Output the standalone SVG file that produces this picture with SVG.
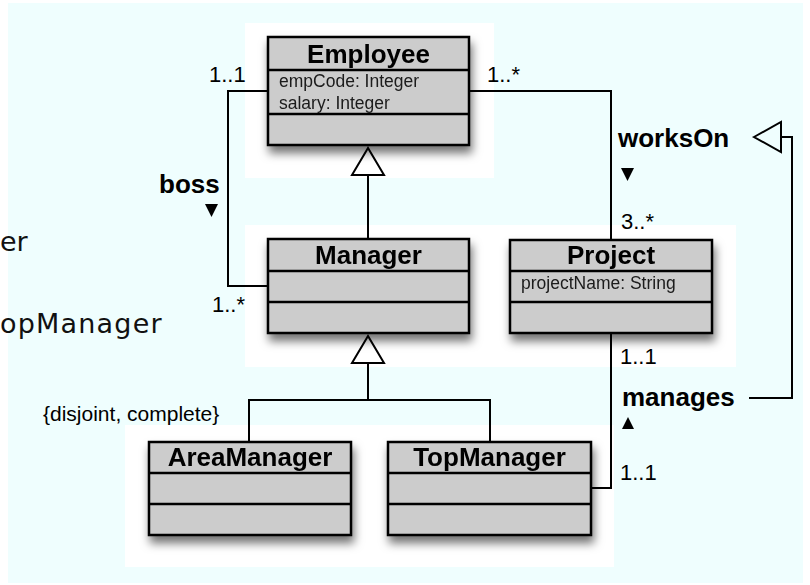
<svg xmlns="http://www.w3.org/2000/svg" width="810" height="585" viewBox="0 0 810 585">
  <defs>
    <style>
      .cls { fill: #cccccc; stroke: #000; stroke-width: 2.5; }
      .sep { stroke: #000; stroke-width: 2.5; }
      .title { font-family: "Liberation Sans", Arial, Helvetica, sans-serif; font-weight: bold; font-size: 26px; fill: #000; text-anchor: middle; }
      .attr { font-family: "Liberation Sans", Arial, Helvetica, sans-serif; font-size: 17.5px; fill: #1a1a1a; }
      .mult { font-family: "Liberation Sans", Arial, Helvetica, sans-serif; font-size: 22px; fill: #000; }
      .assoc { font-family: "Liberation Sans", Arial, Helvetica, sans-serif; font-weight: bold; font-size: 26px; fill: #000; }
      .note { font-family: "Liberation Sans", Arial, Helvetica, sans-serif; font-size: 21px; fill: #000; }
      .ghost { font-family: "DejaVu Sans", Verdana, sans-serif; font-size: 27px; fill: #111; }
      .line { fill: none; stroke: #000; stroke-width: 2; }
      .gen { fill: none; stroke: #000; stroke-width: 2; stroke-linejoin: miter; }
      .panel { fill: #ffffff; }
    </style>
    <filter id="shadow" x="-20%" y="-20%" width="140%" height="160%">
      <feDropShadow dx="2" dy="7" stdDeviation="5" flood-color="#000" flood-opacity="0.55"/>
    </filter>
  </defs>

  <!-- canvas -->
  <rect x="0" y="0" width="810" height="585" fill="#ffffff"/>
  <rect x="8" y="3" width="795" height="580" fill="#effefe"/>

  <!-- white panels behind the class boxes -->
  <g id="panels">
    <rect class="panel" x="245" y="23" width="249" height="155"/>
    <rect class="panel" x="245" y="225" width="491" height="142"/>
    <rect class="panel" x="125" y="425" width="489" height="142"/>
  </g>

  <!-- loose text fragments at the left edge -->
  <text class="ghost" x="0" y="251">er</text>
  <text class="ghost" x="0" y="333" letter-spacing="1.2">opManager</text>

  <!-- connectors -->
  <g id="connectors">
    <!-- Manager generalizes Employee -->
    <line class="line" x1="368" y1="175" x2="368" y2="239"/>
    <polygon class="gen" points="368,148 352,175 384,175"/>
    <!-- AreaManager / TopManager generalize Manager -->
    <polyline class="line" points="249,442 249,400 490,400 490,442"/>
    <line class="line" x1="368" y1="363" x2="368" y2="400"/>
    <polygon class="gen" points="368,336 352,363 384,363"/>
    <!-- boss: Employee to Manager -->
    <polyline class="line" points="268,91 228,91 228,286 268,286"/>
    <!-- worksOn: Employee to Project -->
    <polyline class="line" points="469,91 611,91 611,240"/>
    <!-- manages: Project to TopManager -->
    <polyline class="line" points="611,333 611,488 591,488"/>
    <!-- manages specializes worksOn -->
    <polyline class="line" points="749,398 792,398 792,137 781,137"/>
    <polygon class="gen" points="754,137 781,122 781,152"/>
  </g>

  <!-- association labels -->
  <g id="labels">
    <text class="mult" x="209" y="82">1..1</text>
    <text class="assoc" x="159" y="193">boss</text>
    <polygon points="205,204 218,204 211.5,217" fill="#000"/>
    <text class="mult" x="212" y="312">1..*</text>

    <text class="mult" x="487" y="82">1..*</text>
    <text class="assoc" x="618" y="147">worksOn</text>
    <polygon points="621,168 634,168 627.5,181" fill="#000"/>
    <text class="mult" x="621" y="229">3..*</text>

    <text class="mult" x="620" y="364">1..1</text>
    <text class="assoc" x="622" y="406">manages</text>
    <polygon points="622,429 634,429 628,417" fill="#000"/>
    <text class="mult" x="620" y="480">1..1</text>

    <text class="note" x="43" y="421">{disjoint, complete}</text>
  </g>

  <!-- classes -->
  <g id="employee" filter="url(#shadow)">
    <rect class="cls" x="268" y="37" width="201" height="108"/>
    <line class="sep" x1="268" y1="70" x2="469" y2="70"/>
    <line class="sep" x1="268" y1="114" x2="469" y2="114"/>
    <text class="title" x="368.5" y="63">Employee</text>
    <text class="attr" x="279" y="87">empCode: Integer</text>
    <text class="attr" x="279" y="109">salary: Integer</text>
  </g>

  <g id="manager" filter="url(#shadow)">
    <rect class="cls" x="268" y="239" width="201" height="94"/>
    <line class="sep" x1="268" y1="271" x2="469" y2="271"/>
    <line class="sep" x1="268" y1="302" x2="469" y2="302"/>
    <text class="title" x="368.5" y="264">Manager</text>
  </g>

  <g id="project" filter="url(#shadow)">
    <rect class="cls" x="510" y="240" width="202" height="93"/>
    <line class="sep" x1="510" y1="271" x2="712" y2="271"/>
    <line class="sep" x1="510" y1="302" x2="712" y2="302"/>
    <text class="title" x="611" y="264">Project</text>
    <text class="attr" x="521" y="289">projectName: String</text>
  </g>

  <g id="areamanager" filter="url(#shadow)">
    <rect class="cls" x="149" y="442" width="202" height="93"/>
    <line class="sep" x1="149" y1="473" x2="351" y2="473"/>
    <line class="sep" x1="149" y1="504" x2="351" y2="504"/>
    <text class="title" x="250" y="466">AreaManager</text>
  </g>

  <g id="topmanager" filter="url(#shadow)">
    <rect class="cls" x="388" y="442" width="203" height="93"/>
    <line class="sep" x1="388" y1="473" x2="591" y2="473"/>
    <line class="sep" x1="388" y1="504" x2="591" y2="504"/>
    <text class="title" x="489.5" y="466">TopManager</text>
  </g>
</svg>
